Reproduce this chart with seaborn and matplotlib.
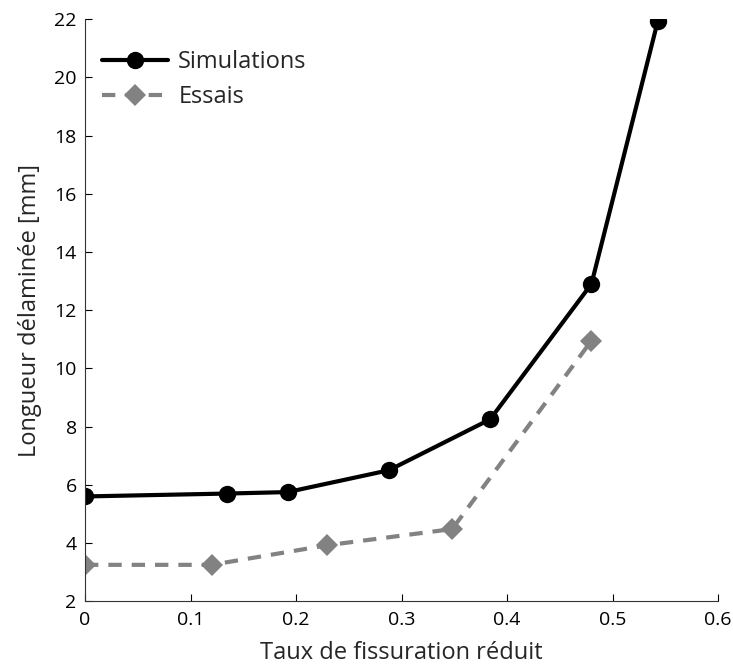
import matplotlib
matplotlib.use("Agg")
import matplotlib.pyplot as plt
import seaborn as sns
import pandas as pd

sim_x = [0.0, 0.135, 0.192, 0.288, 0.384, 0.480, 0.543]
sim_y = [5.6, 5.7, 5.75, 6.5, 8.25, 12.9, 21.95]
ess_x = [0.0, 0.12, 0.229, 0.348, 0.480]
ess_y = [3.25, 3.25, 3.92, 4.48, 10.95]
xticks = [0, 0.1, 0.2, 0.3, 0.4, 0.5, 0.6]
xticklabels = ["0", "0.1", "0.2", "0.3", "0.4", "0.5", "0.6"]
yticks = [2, 4, 6, 8, 10, 12, 14, 16, 18, 20, 22]

sns.set_theme(style="ticks")
plt.rcParams["font.family"] = ["Open Sans", "DejaVu Sans"]

fig = plt.figure(figsize=(7.33, 6.71), dpi=100)
ax = fig.add_axes([0.116, 0.104, 0.8636, 0.8674])

sim = pd.DataFrame({"x": sim_x, "y": sim_y})
ess = pd.DataFrame({"x": ess_x, "y": ess_y})

sns.lineplot(data=sim, x="x", y="y", ax=ax, color="black", linewidth=3,
             marker="o", markersize=12.5, markeredgewidth=0, label="Simulations",
             sort=False)
sns.lineplot(data=ess, x="x", y="y", ax=ax, color="#828282", linewidth=3,
             marker="D", markersize=11.5, markeredgewidth=0, label="Essais",
             sort=False, dashes=False, linestyle=(0, (3.2, 2.4)))

ax.set_xlim(0, 0.6)
ax.set_ylim(2, 22)
ax.set_xticks(xticks)
ax.set_xticklabels(xticklabels)
ax.set_yticks(yticks)
ax.tick_params(direction="in", length=5, width=0.8, labelsize=14, colors="black")
ax.tick_params(axis="x", pad=7)
ax.tick_params(axis="y", pad=6)
for s in ["top", "right"]:
    ax.spines[s].set_visible(False)
for s in ["left", "bottom"]:
    ax.spines[s].set_linewidth(0.8)
    ax.spines[s].set_color("#333333")
ax.set_xlabel("Taux de fissuration réduit", fontsize=17, labelpad=9)
ax.set_ylabel("Longueur délaminée [mm]", fontsize=17, labelpad=9)

leg = ax.legend(loc="upper left", frameon=False, fontsize=17, handlelength=2.8,
                bbox_to_anchor=(0.0, 0.975), labelspacing=0.45, handletextpad=0.45,
                borderaxespad=0.3)

fig.savefig("out.png", dpi=100)
